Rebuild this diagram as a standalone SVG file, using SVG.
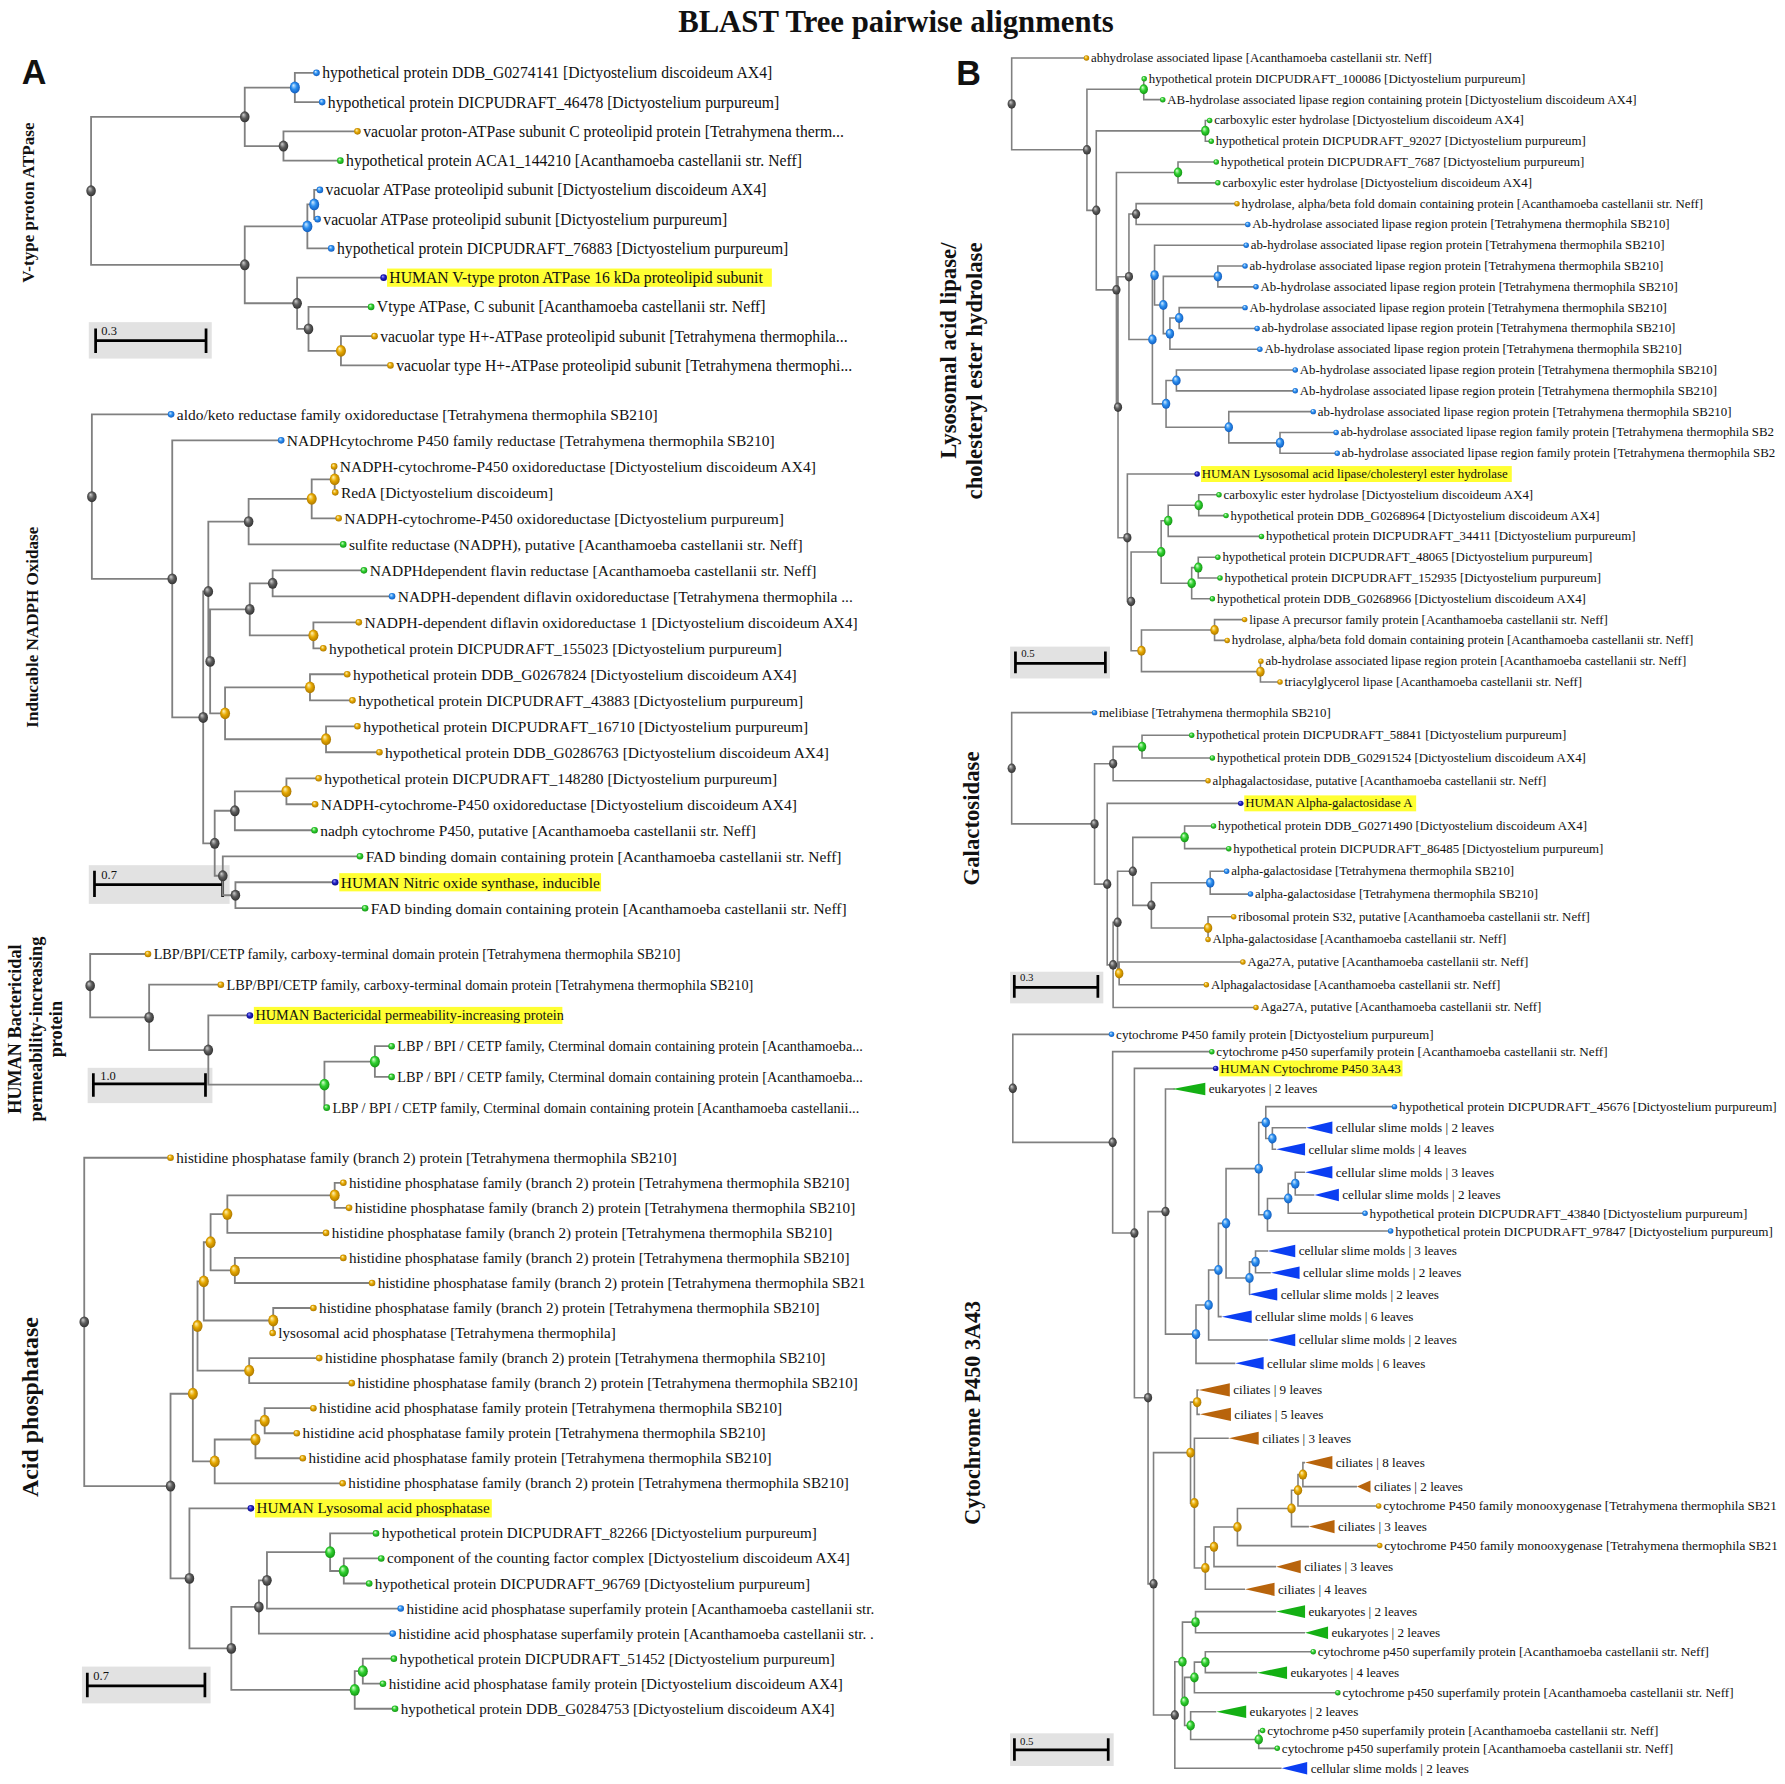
<svg xmlns="http://www.w3.org/2000/svg" width="1785" height="1784" viewBox="0 0 1785 1784">
<defs>
<radialGradient id="gk" cx="0.5" cy="0.5" r="0.6" fx="0.35" fy="0.3"><stop offset="0" stop-color="#cfcfcf"/><stop offset="0.45" stop-color="#5e5e5e"/><stop offset="1" stop-color="#262626"/></radialGradient>
<radialGradient id="gb" cx="0.5" cy="0.5" r="0.6" fx="0.35" fy="0.3"><stop offset="0" stop-color="#d4ecff"/><stop offset="0.45" stop-color="#2b8ff0"/><stop offset="1" stop-color="#0c4fb0"/></radialGradient>
<radialGradient id="go" cx="0.5" cy="0.5" r="0.6" fx="0.35" fy="0.3"><stop offset="0" stop-color="#fff4b8"/><stop offset="0.45" stop-color="#e6a800"/><stop offset="1" stop-color="#9c6a00"/></radialGradient>
<radialGradient id="gn" cx="0.5" cy="0.5" r="0.6" fx="0.35" fy="0.3"><stop offset="0" stop-color="#dcffd4"/><stop offset="0.45" stop-color="#30d030"/><stop offset="1" stop-color="#0c860c"/></radialGradient>
<radialGradient id="gd" cx="0.5" cy="0.5" r="0.6" fx="0.35" fy="0.3"><stop offset="0" stop-color="#a0a0ff"/><stop offset="0.45" stop-color="#2222c4"/><stop offset="1" stop-color="#000070"/></radialGradient>
</defs>
<style>
.e{fill:none;stroke:#808080;stroke-width:1.6}
.eb{fill:none;stroke:#808080;stroke-width:1.4}
.k{fill:url(#gk)}.b{fill:url(#gb)}.o{fill:url(#go)}.g{fill:url(#gn)}.d{fill:url(#gd)}
text{font-family:"Liberation Serif","Times New Roman",serif;fill:#111}
.ta{font-size:13.8px;dominant-baseline:central}
.tb{font-size:11.3px;dominant-baseline:central}
#tree-a2 text{font-size:13.6px}
#tree-a3 text{font-size:12.5px}
#tree-a4 text{font-size:13.3px}
#tree-b3 text{font-size:11.55px}
.hl{fill:#ffff33}
.sb{fill:#e2e2e2}
.bar{stroke:#000;stroke-width:2.4;fill:none}
.sl{font-size:11px}
.sls{font-size:9.5px}
.side{font-weight:bold;text-anchor:middle}
.tbl{fill:#0b3ef2}.tbr{fill:#b8640c}.tgr{fill:#14b014}
</style>
<rect width="1785" height="1784" fill="#fff"/>
<g transform="scale(1.13839)">
<text x="787" y="28" text-anchor="middle" style="font-weight:bold;font-size:27px">BLAST Tree pairwise alignments</text>
<text x="19" y="74" style="font-family:'Liberation Sans',Arial,sans-serif;font-weight:bold;font-size:30px">A</text>
<text x="840" y="75" style="font-family:'Liberation Sans',Arial,sans-serif;font-weight:bold;font-size:30px">B</text>

<g id="side-labels">
<text class="side" transform="translate(30 178) rotate(-90)" style="font-size:15px">V-type proton ATPase</text>
<text class="side" transform="translate(33 551) rotate(-90)" style="font-size:15px">Inducable NADPH Oxidase</text>
<text class="side" transform="translate(18.5 904) rotate(-90)" style="font-size:16px">HUMAN Bactericidal</text>
<text class="side" transform="translate(36.5 904) rotate(-90)" style="font-size:16px">permeability-increasing</text>
<text class="side" transform="translate(54.5 904) rotate(-90)" style="font-size:16px">protein</text>
<text class="side" transform="translate(33 1236) rotate(-90)" style="font-size:21px">Acid phosphatase</text>
<text class="side" transform="translate(840 213) rotate(-90)" style="font-size:20px;text-anchor:end">Lysosomal acid lipase/</text>
<text class="side" transform="translate(863 213) rotate(-90)" style="font-size:20px;text-anchor:end">cholesteryl ester hydrolase</text>
<text class="side" transform="translate(860 719) rotate(-90)" style="font-size:20px">Galactosidase</text>
<text class="side" transform="translate(861 1241) rotate(-90)" style="font-size:19.5px">Cytochrome P450 3A43</text>
</g>

<g id="scale-bars">
<rect class="sb" x="78" y="283" width="108" height="32"/><path class="bar" d="M84 288.5V310M84 299.2H181M181 288.5V310"/><text class="sl" x="89" y="294">0.3</text>
<rect class="sb" x="78" y="760" width="123.7" height="34"/><path class="bar" d="M83 765V788M83 777H195.6M195.6 765V788"/><text class="sl" x="89" y="772">0.7</text>
<rect class="sb" x="77" y="938" width="109.6" height="31"/><path class="bar" d="M82 942.8V963.4M82 952.2H180.5M180.5 942.8V963.4"/><text class="sl" x="88" y="948.5">1.0</text>
<rect class="sb" x="72" y="1464" width="113" height="32.3"/><path class="bar" d="M76.7 1469.3V1491M76.7 1481H180M180 1469.3V1491"/><text class="sl" x="82" y="1476">0.7</text>
<rect class="sb" x="887.3" y="568" width="87.7" height="28"/><path class="bar" d="M892 572.4V591.5M892 582.7H971M971 572.4V591.5"/><text class="sls" x="897" y="577">0.5</text>
<rect class="sb" x="887.3" y="853.6" width="81.9" height="27.8"/><path class="bar" d="M891 856.5V876.4M891 867.3H964.4M964.4 856.5V876.4"/><text class="sls" x="896" y="862">0.3</text>
<rect class="sb" x="887.3" y="1522.6" width="91" height="28.7"/><path class="bar" d="M891.1 1527V1546.6M891.1 1537.2H973.5M973.5 1527V1546.6"/><text class="sls" x="896" y="1533">0.5</text>
</g>

<g id="highlights">
<rect class="hl" x="340" y="235.9" width="338" height="16"/>
<rect class="hl" x="298" y="767" width="230" height="16"/>
<rect class="hl" x="223" y="884.5" width="271" height="15"/>
<rect class="hl" x="224" y="1317" width="208" height="16"/>
<rect class="hl" x="1055" y="409.4" width="273" height="14"/>
<rect class="hl" x="1093" y="698.7" width="151" height="14"/>
<rect class="hl" x="1071" y="931.5" width="161" height="14"/>
</g>

<g id="connectors">
<path class="e" d="M278 64H259V89.7H283M314 115.4H249V141.1H299M259 76.9H215V128.3H249M281 166.8H276V192.5H279M276 179.6H270V218.2H291M329 295.3H299.5V321H343M326 269.6H271V308.2H299.5M337 243.9H261V288.9H271M270 198.9H215V266.4H261M215 102.6H80V232.6H215"/>
<path class="e" d="M293.5 409.7H294V432.5H294.5M294 421.1H273.8V455.3H297.5M273.8 438.2H218.4V478.2H301.5M319.7 501H239.5V523.8H344.4M315.2 546.7H275.3V569.5H284M239.5 512.4H219.4V558.1H275.3M305 592.3H272.3V615.2H309.6M314 638H286.4V660.8H333.3M272.3 603.8H197.7V649.4H286.4M219.4 535.3H184.6V626.6H197.7M218.4 458.2H183V581H184.6M279.9 683.7H251.6V706.5H276.8M251.6 695.1H206.3V729.3H276.3M294.4 775H206.8V797.8H320.7M316.2 752.2H195.7V786.4H206.8M206.3 712.2H188.6V769.3H195.7M183 519.6H178.5V740.8H188.6M247 386.8H151.3V630.2H178.5M150.3 364H80.7V508.5H151.3"/>
<path class="e" d="M344 919H329.3V946H344M329.3 932.5H285V973H287M219.5 892H183V952.75H285M194 865H131V922.4H183M130 838H79.2V893.7H131"/>
<path class="e" d="M301.6 1039H294V1061H306.6M294 1050H199.7V1083H286.4M301.6 1105H206.3V1127H326.8M199.7 1066.5H185V1116H206.3M275.3 1149H240V1171H239.5M185 1091.25H179V1160H240M280.4 1193H218.9V1215H309M179 1125.6H173.5V1204H218.9M275.3 1237H232.5V1259H260.7M232.5 1248H224.4V1281H266M224.4 1264.5H188.6V1303H301M173.5 1164.8H169.4V1283.75H188.6M334.9 1369H302V1391H324.3M330.3 1347H290V1380H302M290 1363.5H234.5V1413H352M234.5 1388.25H227.4V1435H345M346 1457H318.7V1479H336.4M318.7 1468H311.6V1501H347M227.4 1411.6H203.2V1484.5H311.6M220.4 1325H166.4V1448H203.2M169.4 1224.3H149.8V1386.5H166.4M149.8 1017H74V1305.4H149.8"/>
<path class="eb" d="M1005.1 69.27H1004.7V87.54H1021.4M1062.6 105.81H1058.8V124.08H1064M1068.4 142.35H1034.8V160.62H1069.8M1086.6 178.89H998V197.16H1096.1M1093.7 233.7H1069.8V251.97H1103.3M1093.7 270.24H1035.8V288.51H1104.3M1035.8 279.4H1027.7V306.78H1106.7M1069.8 242.8H1021.9V293.1H1027.7M1094.7 215.43H1014.2V267.95H1021.9M1137.8 325.05H1033.4V343.32H1137.8M1173.7 379.86H1124.4V398.13H1174.7M1153.6 361.59H1079.4V389H1124.4M1033.4 334.2H1024.3V375.3H1079.4M1014.2 241.7H1012.3V354.75H1024.3M998 188H991.7V298.2H1012.3M1070.8 434.67H1053V452.94H1077M1053 443.8H1026.2V471.21H1108.1M1069.8 489.48H1052.6V507.75H1071.7M1052.6 498.6H1046.8V526.02H1065M1026.2 457.5H1020V512.3H1046.8M1093.3 544.29H1066.9V562.56H1078M1107.6 580.83H1107.2V599.1H1124.4M1066.9 553.4H1002.7V590H1107.2M1020 484.9H993.6V571.7H1002.7M1051.6 416.4H990.3V528.3H993.6M991.7 243.1H982.1V472.35H990.3M1034.8 151.5H980.7V357.7H982.1M1058.8 114.95H963V254.6H980.7M1004.7 78.4H954.8V184.8H963M954.4 51H888.7V131.6H954.8"/>
<path class="eb" d="M1046.8 645.9H1003.2V665.8H1065M1003.2 655.9H977.8V685.8H1061.2M1066 725.6H1040.6V745.5H1079.4M1077.5 765.4H1063.1V785.4H1098.5M1083.7 805.3H1061.2V825.2H1061.2M1063.1 775.4H1011.4V815.25H1061.2M1040.6 735.55H995.1V795.3H1011.4M1091.8 845.1H983.1V865H1059.7M995.1 765.4H981.7V855.05H983.1M981.7 810.2H977.8V885H1103.3M1089.9 705.7H972.6V847.6H977.8M977.8 670.85H961.5V776.65H972.6M961.5 626H888.7V723.75H961.5"/>
<path class="eb" d="M1147.4 990.6H1117.7V1009.6H1121M1225 972.1H1111.9V1000.1H1117.7M1146.4 1029.8H1137.8V1049.7H1154.6M1137.8 1039.75H1131.6V1065.8H1199.1M1131.6 1052.8H1113.4V1081.4H1221.6M1111.9 986.1H1105.7V1067.1H1113.4M1113.9 1098.9H1102.9V1118H1116.3M1102.9 1108.45H1097.6V1137H1097.1M1105.7 1026.6H1077V1122.7H1097.6M1077 1074.65H1070.3V1156.6H1073.2M1070.3 1115.6H1061.7V1177.1H1113.9M1061.7 1146.35H1050.6V1197.6H1085.1M1032 956.6H1023.8V1171.95H1050.6M1053 1221H1051.6V1242.4H1054M1146.4 1284.8H1144.5V1305.9H1192M1144.5 1295.35H1140.2V1322.9H1211.1M1140.2 1309.1H1134.5V1341H1149.8M1134.5 1325.05H1087V1357.7H1212M1087 1341.4H1066.4V1376.2H1121M1066.4 1358.8H1058.8V1396.1H1093.7M1079.4 1263.4H1049.2V1377.45H1058.8M1051.6 1231.7H1045.8V1320.4H1049.2M1121 1415.7H1050.2V1434.2H1146.4M1153.6 1450.9H1058.8V1469.3H1104.3M1058.8 1460.1H1049.2V1486.9H1175.2M1109.1 1520.2H1105.7V1535.8H1122M1068.4 1503.6H1045.9V1528H1105.7M1049.2 1473.5H1040.6V1515.8H1045.9M1050.2 1424.95H1038.7V1494.65H1040.6M1038.7 1459.8H1032V1553.3H1125.8M1045.8 1276.05H1013.3V1506.55H1032M1023.8 1064.3H1008.5V1391.3H1013.3M1067.9 938.5H996.5V1227.8H1008.5M1064.5 923.8H977.4V1083.15H996.5M976.4 908.6H889.7V1003.5H977.4"/>
</g>

<g id="tree-a1">
<g id="a1-internal">
<ellipse class="b" cx="259" cy="76.9" rx="4.4" ry="5.2"/><ellipse class="k" cx="249" cy="128.3" rx="4.2" ry="4.8"/><ellipse class="k" cx="215" cy="102.6" rx="4.2" ry="4.8"/><ellipse class="b" cx="276" cy="179.6" rx="4.4" ry="5.2"/><ellipse class="b" cx="270" cy="198.9" rx="4.4" ry="5.2"/><ellipse class="o" cx="299.5" cy="308.2" rx="4.4" ry="5.2"/><ellipse class="k" cx="271" cy="288.9" rx="4.2" ry="4.8"/><ellipse class="k" cx="261" cy="266.4" rx="4.2" ry="4.8"/><ellipse class="k" cx="215" cy="232.6" rx="4.2" ry="4.8"/><ellipse class="k" cx="80" cy="167.6" rx="4.2" ry="4.8"/>
</g>
<g id="a1-l0"><circle class="b" cx="278" cy="64" r="2.9"/><text class="ta" x="283" y="64">hypothetical protein DDB_G0274141 [Dictyostelium discoideum AX4]</text></g>
<g id="a1-l1"><circle class="b" cx="283" cy="89.7" r="2.9"/><text class="ta" x="288" y="89.7">hypothetical protein DICPUDRAFT_46478 [Dictyostelium purpureum]</text></g>
<g id="a1-l2"><circle class="o" cx="314" cy="115.4" r="2.9"/><text class="ta" x="319" y="115.4">vacuolar proton-ATPase subunit C proteolipid protein [Tetrahymena therm...</text></g>
<g id="a1-l3"><circle class="g" cx="299" cy="141.1" r="2.9"/><text class="ta" x="304" y="141.1">hypothetical protein ACA1_144210 [Acanthamoeba castellanii str. Neff]</text></g>
<g id="a1-l4"><circle class="b" cx="281" cy="166.8" r="2.9"/><text class="ta" x="286" y="166.8">vacuolar ATPase proteolipid subunit [Dictyostelium discoideum AX4]</text></g>
<g id="a1-l5"><circle class="b" cx="279" cy="192.5" r="2.9"/><text class="ta" x="284" y="192.5">vacuolar ATPase proteolipid subunit [Dictyostelium purpureum]</text></g>
<g id="a1-l6"><circle class="b" cx="291" cy="218.2" r="2.9"/><text class="ta" x="296" y="218.2">hypothetical protein DICPUDRAFT_76883 [Dictyostelium purpureum]</text></g>
<g id="a1-l7"><circle class="d" cx="337" cy="243.9" r="2.9"/><text class="ta" x="342" y="243.9">HUMAN V-type proton ATPase 16 kDa proteolipid subunit</text></g>
<g id="a1-l8"><circle class="g" cx="326" cy="269.6" r="2.9"/><text class="ta" x="331" y="269.6">Vtype ATPase, C subunit [Acanthamoeba castellanii str. Neff]</text></g>
<g id="a1-l9"><circle class="o" cx="329" cy="295.3" r="2.9"/><text class="ta" x="334" y="295.3">vacuolar type H+-ATPase proteolipid subunit [Tetrahymena thermophila...</text></g>
<g id="a1-l10"><circle class="o" cx="343" cy="321" r="2.9"/><text class="ta" x="348" y="321">vacuolar type H+-ATPase proteolipid subunit [Tetrahymena thermophi...</text></g>
</g>

<g id="tree-a2">
<g id="a2-internal">
<ellipse class="o" cx="294" cy="421.1" rx="4.4" ry="5.2"/><ellipse class="o" cx="273.8" cy="438.2" rx="4.4" ry="5.2"/><ellipse class="k" cx="218.4" cy="458.2" rx="4.2" ry="4.8"/><ellipse class="k" cx="239.5" cy="512.4" rx="4.2" ry="4.8"/><ellipse class="o" cx="275.3" cy="558.1" rx="4.4" ry="5.2"/><ellipse class="k" cx="219.4" cy="535.3" rx="4.2" ry="4.8"/><ellipse class="o" cx="272.3" cy="603.8" rx="4.4" ry="5.2"/><ellipse class="o" cx="286.4" cy="649.4" rx="4.4" ry="5.2"/><ellipse class="o" cx="197.7" cy="626.6" rx="4.4" ry="5.2"/><ellipse class="k" cx="184.6" cy="581" rx="4.2" ry="4.8"/><ellipse class="k" cx="183" cy="519.6" rx="4.2" ry="4.8"/><ellipse class="o" cx="251.6" cy="695.1" rx="4.4" ry="5.2"/><ellipse class="k" cx="206.3" cy="712.2" rx="4.2" ry="4.8"/><ellipse class="k" cx="206.8" cy="786.4" rx="4.2" ry="4.8"/><ellipse class="k" cx="195.7" cy="769.3" rx="4.2" ry="4.8"/><ellipse class="k" cx="188.6" cy="740.8" rx="4.2" ry="4.8"/><ellipse class="k" cx="178.5" cy="630.2" rx="4.2" ry="4.8"/><ellipse class="k" cx="151.3" cy="508.5" rx="4.2" ry="4.8"/><ellipse class="k" cx="80.7" cy="436.3" rx="4.2" ry="4.8"/>
</g>
<g id="a2-l0"><circle class="b" cx="150.3" cy="364" r="2.9"/><text class="ta" x="155.3" y="364">aldo/keto reductase family oxidoreductase [Tetrahymena thermophila SB210]</text></g>
<g id="a2-l1"><circle class="b" cx="247" cy="386.8" r="2.9"/><text class="ta" x="252" y="386.8">NADPHcytochrome P450 family reductase [Tetrahymena thermophila SB210]</text></g>
<g id="a2-l2"><circle class="o" cx="293.5" cy="409.7" r="2.9"/><text class="ta" x="298.5" y="409.7">NADPH-cytochrome-P450 oxidoreductase [Dictyostelium discoideum AX4]</text></g>
<g id="a2-l3"><circle class="o" cx="294.5" cy="432.5" r="2.9"/><text class="ta" x="299.5" y="432.5">RedA [Dictyostelium discoideum]</text></g>
<g id="a2-l4"><circle class="o" cx="297.5" cy="455.3" r="2.9"/><text class="ta" x="302.5" y="455.3">NADPH-cytochrome-P450 oxidoreductase [Dictyostelium purpureum]</text></g>
<g id="a2-l5"><circle class="g" cx="301.5" cy="478.2" r="2.9"/><text class="ta" x="306.5" y="478.2">sulfite reductase (NADPH), putative [Acanthamoeba castellanii str. Neff]</text></g>
<g id="a2-l6"><circle class="g" cx="319.7" cy="501" r="2.9"/><text class="ta" x="324.7" y="501">NADPHdependent flavin reductase [Acanthamoeba castellanii str. Neff]</text></g>
<g id="a2-l7"><circle class="b" cx="344.4" cy="523.8" r="2.9"/><text class="ta" x="349.4" y="523.8">NADPH-dependent diflavin oxidoreductase [Tetrahymena thermophila ...</text></g>
<g id="a2-l8"><circle class="o" cx="315.2" cy="546.7" r="2.9"/><text class="ta" x="320.2" y="546.7">NADPH-dependent diflavin oxidoreductase 1 [Dictyostelium discoideum AX4]</text></g>
<g id="a2-l9"><circle class="o" cx="284" cy="569.5" r="2.9"/><text class="ta" x="289" y="569.5">hypothetical protein DICPUDRAFT_155023 [Dictyostelium purpureum]</text></g>
<g id="a2-l10"><circle class="o" cx="305" cy="592.3" r="2.9"/><text class="ta" x="310" y="592.3">hypothetical protein DDB_G0267824 [Dictyostelium discoideum AX4]</text></g>
<g id="a2-l11"><circle class="o" cx="309.6" cy="615.2" r="2.9"/><text class="ta" x="314.6" y="615.2">hypothetical protein DICPUDRAFT_43883 [Dictyostelium purpureum]</text></g>
<g id="a2-l12"><circle class="o" cx="314" cy="638" r="2.9"/><text class="ta" x="319" y="638">hypothetical protein DICPUDRAFT_16710 [Dictyostelium purpureum]</text></g>
<g id="a2-l13"><circle class="o" cx="333.3" cy="660.8" r="2.9"/><text class="ta" x="338.3" y="660.8">hypothetical protein DDB_G0286763 [Dictyostelium discoideum AX4]</text></g>
<g id="a2-l14"><circle class="o" cx="279.9" cy="683.7" r="2.9"/><text class="ta" x="284.9" y="683.7">hypothetical protein DICPUDRAFT_148280 [Dictyostelium purpureum]</text></g>
<g id="a2-l15"><circle class="o" cx="276.8" cy="706.5" r="2.9"/><text class="ta" x="281.8" y="706.5">NADPH-cytochrome-P450 oxidoreductase [Dictyostelium discoideum AX4]</text></g>
<g id="a2-l16"><circle class="g" cx="276.3" cy="729.3" r="2.9"/><text class="ta" x="281.3" y="729.3">nadph cytochrome P450, putative [Acanthamoeba castellanii str. Neff]</text></g>
<g id="a2-l17"><circle class="g" cx="316.2" cy="752.2" r="2.9"/><text class="ta" x="321.2" y="752.2">FAD binding domain containing protein [Acanthamoeba castellanii str. Neff]</text></g>
<g id="a2-l18"><circle class="d" cx="294.4" cy="775" r="2.9"/><text class="ta" x="299.4" y="775">HUMAN Nitric oxide synthase, inducible</text></g>
<g id="a2-l19"><circle class="g" cx="320.7" cy="797.8" r="2.9"/><text class="ta" x="325.7" y="797.8">FAD binding domain containing protein [Acanthamoeba castellanii str. Neff]</text></g>
</g>

<g id="tree-a3">
<g id="a3-internal">
<ellipse class="g" cx="329.3" cy="932.5" rx="4.4" ry="5.2"/><ellipse class="g" cx="285" cy="952.75" rx="4.4" ry="5.2"/><ellipse class="k" cx="183" cy="922.4" rx="4.2" ry="4.8"/><ellipse class="k" cx="131" cy="893.7" rx="4.2" ry="4.8"/><ellipse class="k" cx="79.2" cy="865.9" rx="4.2" ry="4.8"/>
</g>
<g id="a3-l0"><circle class="o" cx="130" cy="838" r="2.9"/><text class="ta" x="135" y="838">LBP/BPI/CETP family, carboxy-terminal domain protein [Tetrahymena thermophila SB210]</text></g>
<g id="a3-l1"><circle class="o" cx="194" cy="865" r="2.9"/><text class="ta" x="199" y="865">LBP/BPI/CETP family, carboxy-terminal domain protein [Tetrahymena thermophila SB210]</text></g>
<g id="a3-l2"><circle class="d" cx="219.5" cy="892" r="2.9"/><text class="ta" x="224.5" y="892">HUMAN Bactericidal permeability-increasing protein</text></g>
<g id="a3-l3"><circle class="g" cx="344" cy="919" r="2.9"/><text class="ta" x="349" y="919">LBP / BPI / CETP family, Cterminal domain containing protein [Acanthamoeba...</text></g>
<g id="a3-l4"><circle class="g" cx="344" cy="946" r="2.9"/><text class="ta" x="349" y="946">LBP / BPI / CETP family, Cterminal domain containing protein [Acanthamoeba...</text></g>
<g id="a3-l5"><circle class="g" cx="287" cy="973" r="2.9"/><text class="ta" x="292" y="973">LBP / BPI / CETP family, Cterminal domain containing protein [Acanthamoeba castellanii...</text></g>
</g>

<g id="tree-a4">
<g id="a4-internal">
<ellipse class="o" cx="294" cy="1050" rx="4.4" ry="5.2"/><ellipse class="o" cx="199.7" cy="1066.5" rx="4.4" ry="5.2"/><ellipse class="o" cx="206.3" cy="1116" rx="4.4" ry="5.2"/><ellipse class="o" cx="185" cy="1091.25" rx="4.4" ry="5.2"/><ellipse class="o" cx="240" cy="1160" rx="4.4" ry="5.2"/><ellipse class="o" cx="179" cy="1125.6" rx="4.4" ry="5.2"/><ellipse class="o" cx="218.9" cy="1204" rx="4.4" ry="5.2"/><ellipse class="o" cx="173.5" cy="1164.8" rx="4.4" ry="5.2"/><ellipse class="o" cx="232.5" cy="1248" rx="4.4" ry="5.2"/><ellipse class="o" cx="224.4" cy="1264.5" rx="4.4" ry="5.2"/><ellipse class="o" cx="188.6" cy="1283.75" rx="4.4" ry="5.2"/><ellipse class="o" cx="169.4" cy="1224.3" rx="4.4" ry="5.2"/><ellipse class="g" cx="302" cy="1380" rx="4.4" ry="5.2"/><ellipse class="g" cx="290" cy="1363.5" rx="4.4" ry="5.2"/><ellipse class="k" cx="234.5" cy="1388.25" rx="4.2" ry="4.8"/><ellipse class="k" cx="227.4" cy="1411.6" rx="4.2" ry="4.8"/><ellipse class="g" cx="318.7" cy="1468" rx="4.4" ry="5.2"/><ellipse class="g" cx="311.6" cy="1484.5" rx="4.4" ry="5.2"/><ellipse class="k" cx="203.2" cy="1448" rx="4.2" ry="4.8"/><ellipse class="k" cx="166.4" cy="1386.5" rx="4.2" ry="4.8"/><ellipse class="k" cx="149.8" cy="1305.4" rx="4.2" ry="4.8"/><ellipse class="k" cx="74" cy="1161.2" rx="4.2" ry="4.8"/>
</g>
<g id="a4-l0"><circle class="o" cx="149.8" cy="1017" r="2.9"/><text class="ta" x="154.8" y="1017">histidine phosphatase family (branch 2) protein [Tetrahymena thermophila SB210]</text></g>
<g id="a4-l1"><circle class="o" cx="301.6" cy="1039" r="2.9"/><text class="ta" x="306.6" y="1039">histidine phosphatase family (branch 2) protein [Tetrahymena thermophila SB210]</text></g>
<g id="a4-l2"><circle class="o" cx="306.6" cy="1061" r="2.9"/><text class="ta" x="311.6" y="1061">histidine phosphatase family (branch 2) protein [Tetrahymena thermophila SB210]</text></g>
<g id="a4-l3"><circle class="o" cx="286.4" cy="1083" r="2.9"/><text class="ta" x="291.4" y="1083">histidine phosphatase family (branch 2) protein [Tetrahymena thermophila SB210]</text></g>
<g id="a4-l4"><circle class="o" cx="301.6" cy="1105" r="2.9"/><text class="ta" x="306.6" y="1105">histidine phosphatase family (branch 2) protein [Tetrahymena thermophila SB210]</text></g>
<g id="a4-l5"><circle class="o" cx="326.8" cy="1127" r="2.9"/><text class="ta" x="331.8" y="1127">histidine phosphatase family (branch 2) protein [Tetrahymena thermophila SB21</text></g>
<g id="a4-l6"><circle class="o" cx="275.3" cy="1149" r="2.9"/><text class="ta" x="280.3" y="1149">histidine phosphatase family (branch 2) protein [Tetrahymena thermophila SB210]</text></g>
<g id="a4-l7"><circle class="o" cx="239.5" cy="1171" r="2.9"/><text class="ta" x="244.5" y="1171">lysosomal acid phosphatase [Tetrahymena thermophila]</text></g>
<g id="a4-l8"><circle class="o" cx="280.4" cy="1193" r="2.9"/><text class="ta" x="285.4" y="1193">histidine phosphatase family (branch 2) protein [Tetrahymena thermophila SB210]</text></g>
<g id="a4-l9"><circle class="o" cx="309" cy="1215" r="2.9"/><text class="ta" x="314" y="1215">histidine phosphatase family (branch 2) protein [Tetrahymena thermophila SB210]</text></g>
<g id="a4-l10"><circle class="o" cx="275.3" cy="1237" r="2.9"/><text class="ta" x="280.3" y="1237">histidine acid phosphatase family protein [Tetrahymena thermophila SB210]</text></g>
<g id="a4-l11"><circle class="o" cx="260.7" cy="1259" r="2.9"/><text class="ta" x="265.7" y="1259">histidine acid phosphatase family protein [Tetrahymena thermophila SB210]</text></g>
<g id="a4-l12"><circle class="o" cx="266" cy="1281" r="2.9"/><text class="ta" x="271" y="1281">histidine acid phosphatase family protein [Tetrahymena thermophila SB210]</text></g>
<g id="a4-l13"><circle class="o" cx="301" cy="1303" r="2.9"/><text class="ta" x="306" y="1303">histidine phosphatase family (branch 2) protein [Tetrahymena thermophila SB210]</text></g>
<g id="a4-l14"><circle class="d" cx="220.4" cy="1325" r="2.9"/><text class="ta" x="225.4" y="1325">HUMAN Lysosomal acid phosphatase</text></g>
<g id="a4-l15"><circle class="g" cx="330.3" cy="1347" r="2.9"/><text class="ta" x="335.3" y="1347">hypothetical protein DICPUDRAFT_82266 [Dictyostelium purpureum]</text></g>
<g id="a4-l16"><circle class="g" cx="334.9" cy="1369" r="2.9"/><text class="ta" x="339.9" y="1369">component of the counting factor complex [Dictyostelium discoideum AX4]</text></g>
<g id="a4-l17"><circle class="g" cx="324.3" cy="1391" r="2.9"/><text class="ta" x="329.3" y="1391">hypothetical protein DICPUDRAFT_96769 [Dictyostelium purpureum]</text></g>
<g id="a4-l18"><circle class="b" cx="352" cy="1413" r="2.9"/><text class="ta" x="357" y="1413">histidine acid phosphatase superfamily protein [Acanthamoeba castellanii str.</text></g>
<g id="a4-l19"><circle class="b" cx="345" cy="1435" r="2.9"/><text class="ta" x="350" y="1435">histidine acid phosphatase superfamily protein [Acanthamoeba castellanii str. .</text></g>
<g id="a4-l20"><circle class="g" cx="346" cy="1457" r="2.9"/><text class="ta" x="351" y="1457">hypothetical protein DICPUDRAFT_51452 [Dictyostelium purpureum]</text></g>
<g id="a4-l21"><circle class="g" cx="336.4" cy="1479" r="2.9"/><text class="ta" x="341.4" y="1479">histidine acid phosphatase family protein [Dictyostelium discoideum AX4]</text></g>
<g id="a4-l22"><circle class="g" cx="347" cy="1501" r="2.9"/><text class="ta" x="352" y="1501">hypothetical protein DDB_G0284753 [Dictyostelium discoideum AX4]</text></g>
</g>

<g id="tree-b1">
<g id="b1-internal">
<ellipse class="g" cx="1004.7" cy="78.4" rx="3.7" ry="4.4"/><ellipse class="g" cx="1058.8" cy="114.95" rx="3.7" ry="4.4"/><ellipse class="g" cx="1034.8" cy="151.5" rx="3.7" ry="4.4"/><ellipse class="k" cx="998" cy="188" rx="3.6" ry="4.2"/><ellipse class="b" cx="1069.8" cy="242.8" rx="3.7" ry="4.4"/><ellipse class="b" cx="1035.8" cy="279.4" rx="3.7" ry="4.4"/><ellipse class="b" cx="1027.7" cy="293.1" rx="3.7" ry="4.4"/><ellipse class="b" cx="1021.9" cy="267.95" rx="3.7" ry="4.4"/><ellipse class="b" cx="1014.2" cy="241.7" rx="3.7" ry="4.4"/><ellipse class="b" cx="1033.4" cy="334.2" rx="3.7" ry="4.4"/><ellipse class="b" cx="1124.4" cy="389" rx="3.7" ry="4.4"/><ellipse class="b" cx="1079.4" cy="375.3" rx="3.7" ry="4.4"/><ellipse class="b" cx="1024.3" cy="354.75" rx="3.7" ry="4.4"/><ellipse class="b" cx="1012.3" cy="298.2" rx="3.7" ry="4.4"/><ellipse class="k" cx="991.7" cy="243.1" rx="3.6" ry="4.2"/><ellipse class="g" cx="1053" cy="443.8" rx="3.7" ry="4.4"/><ellipse class="g" cx="1026.2" cy="457.5" rx="3.7" ry="4.4"/><ellipse class="g" cx="1052.6" cy="498.6" rx="3.7" ry="4.4"/><ellipse class="g" cx="1046.8" cy="512.3" rx="3.7" ry="4.4"/><ellipse class="g" cx="1020" cy="484.9" rx="3.7" ry="4.4"/><ellipse class="o" cx="1066.9" cy="553.4" rx="3.7" ry="4.4"/><ellipse class="o" cx="1107.2" cy="590" rx="3.7" ry="4.4"/><ellipse class="o" cx="1002.7" cy="571.7" rx="3.7" ry="4.4"/><ellipse class="k" cx="993.6" cy="528.3" rx="3.6" ry="4.2"/><ellipse class="k" cx="990.3" cy="472.35" rx="3.6" ry="4.2"/><ellipse class="k" cx="982.1" cy="357.7" rx="3.6" ry="4.2"/><ellipse class="k" cx="980.7" cy="254.6" rx="3.6" ry="4.2"/><ellipse class="k" cx="963" cy="184.8" rx="3.6" ry="4.2"/><ellipse class="k" cx="954.8" cy="131.6" rx="3.6" ry="4.2"/><ellipse class="k" cx="888.7" cy="91.3" rx="3.6" ry="4.2"/>
</g>
<g id="b1-l0"><circle class="o" cx="954.4" cy="51" r="2.4"/><text class="tb" x="958.4" y="51">abhydrolase associated lipase [Acanthamoeba castellanii str. Neff]</text></g>
<g id="b1-l1"><circle class="g" cx="1005.1" cy="69.27" r="2.4"/><text class="tb" x="1009.1" y="69.27">hypothetical protein DICPUDRAFT_100086 [Dictyostelium purpureum]</text></g>
<g id="b1-l2"><circle class="g" cx="1021.4" cy="87.54" r="2.4"/><text class="tb" x="1025.4" y="87.54">AB-hydrolase associated lipase region containing protein [Dictyostelium discoideum AX4]</text></g>
<g id="b1-l3"><circle class="g" cx="1062.6" cy="105.81" r="2.4"/><text class="tb" x="1066.6" y="105.81">carboxylic ester hydrolase [Dictyostelium discoideum AX4]</text></g>
<g id="b1-l4"><circle class="g" cx="1064" cy="124.08" r="2.4"/><text class="tb" x="1068" y="124.08">hypothetical protein DICPUDRAFT_92027 [Dictyostelium purpureum]</text></g>
<g id="b1-l5"><circle class="g" cx="1068.4" cy="142.35" r="2.4"/><text class="tb" x="1072.4" y="142.35">hypothetical protein DICPUDRAFT_7687 [Dictyostelium purpureum]</text></g>
<g id="b1-l6"><circle class="g" cx="1069.8" cy="160.62" r="2.4"/><text class="tb" x="1073.8" y="160.62">carboxylic ester hydrolase [Dictyostelium discoideum AX4]</text></g>
<g id="b1-l7"><circle class="o" cx="1086.6" cy="178.89" r="2.4"/><text class="tb" x="1090.6" y="178.89">hydrolase, alpha/beta fold domain containing protein [Acanthamoeba castellanii str. Neff]</text></g>
<g id="b1-l8"><circle class="b" cx="1096.1" cy="197.16" r="2.4"/><text class="tb" x="1100.1" y="197.16">Ab-hydrolase associated lipase region protein [Tetrahymena thermophila SB210]</text></g>
<g id="b1-l9"><circle class="b" cx="1094.7" cy="215.43" r="2.4"/><text class="tb" x="1098.7" y="215.43">ab-hydrolase associated lipase region protein [Tetrahymena thermophila SB210]</text></g>
<g id="b1-l10"><circle class="b" cx="1093.7" cy="233.7" r="2.4"/><text class="tb" x="1097.7" y="233.7">ab-hydrolase associated lipase region protein [Tetrahymena thermophila SB210]</text></g>
<g id="b1-l11"><circle class="b" cx="1103.3" cy="251.97" r="2.4"/><text class="tb" x="1107.3" y="251.97">Ab-hydrolase associated lipase region protein [Tetrahymena thermophila SB210]</text></g>
<g id="b1-l12"><circle class="b" cx="1093.7" cy="270.24" r="2.4"/><text class="tb" x="1097.7" y="270.24">Ab-hydrolase associated lipase region protein [Tetrahymena thermophila SB210]</text></g>
<g id="b1-l13"><circle class="b" cx="1104.3" cy="288.51" r="2.4"/><text class="tb" x="1108.3" y="288.51">ab-hydrolase associated lipase region protein [Tetrahymena thermophila SB210]</text></g>
<g id="b1-l14"><circle class="b" cx="1106.7" cy="306.78" r="2.4"/><text class="tb" x="1110.7" y="306.78">Ab-hydrolase associated lipase region protein [Tetrahymena thermophila SB210]</text></g>
<g id="b1-l15"><circle class="b" cx="1137.8" cy="325.05" r="2.4"/><text class="tb" x="1141.8" y="325.05">Ab-hydrolase associated lipase region protein [Tetrahymena thermophila SB210]</text></g>
<g id="b1-l16"><circle class="b" cx="1137.8" cy="343.32" r="2.4"/><text class="tb" x="1141.8" y="343.32">Ab-hydrolase associated lipase region protein [Tetrahymena thermophila SB210]</text></g>
<g id="b1-l17"><circle class="b" cx="1153.6" cy="361.59" r="2.4"/><text class="tb" x="1157.6" y="361.59">ab-hydrolase associated lipase region protein [Tetrahymena thermophila SB210]</text></g>
<g id="b1-l18"><circle class="b" cx="1173.7" cy="379.86" r="2.4"/><text class="tb" x="1177.7" y="379.86">ab-hydrolase associated lipase region family protein [Tetrahymena thermophila SB2</text></g>
<g id="b1-l19"><circle class="b" cx="1174.7" cy="398.13" r="2.4"/><text class="tb" x="1178.7" y="398.13">ab-hydrolase associated lipase region family protein [Tetrahymena thermophila SB2</text></g>
<g id="b1-l20"><circle class="d" cx="1051.6" cy="416.4" r="2.4"/><text class="tb" x="1055.6" y="416.4">HUMAN Lysosomal acid lipase/cholesteryl ester hydrolase</text></g>
<g id="b1-l21"><circle class="g" cx="1070.8" cy="434.67" r="2.4"/><text class="tb" x="1074.8" y="434.67">carboxylic ester hydrolase [Dictyostelium discoideum AX4]</text></g>
<g id="b1-l22"><circle class="g" cx="1077" cy="452.94" r="2.4"/><text class="tb" x="1081" y="452.94">hypothetical protein DDB_G0268964 [Dictyostelium discoideum AX4]</text></g>
<g id="b1-l23"><circle class="g" cx="1108.1" cy="471.21" r="2.4"/><text class="tb" x="1112.1" y="471.21">hypothetical protein DICPUDRAFT_34411 [Dictyostelium purpureum]</text></g>
<g id="b1-l24"><circle class="g" cx="1069.8" cy="489.48" r="2.4"/><text class="tb" x="1073.8" y="489.48">hypothetical protein DICPUDRAFT_48065 [Dictyostelium purpureum]</text></g>
<g id="b1-l25"><circle class="g" cx="1071.7" cy="507.75" r="2.4"/><text class="tb" x="1075.7" y="507.75">hypothetical protein DICPUDRAFT_152935 [Dictyostelium purpureum]</text></g>
<g id="b1-l26"><circle class="g" cx="1065" cy="526.02" r="2.4"/><text class="tb" x="1069" y="526.02">hypothetical protein DDB_G0268966 [Dictyostelium discoideum AX4]</text></g>
<g id="b1-l27"><circle class="o" cx="1093.3" cy="544.29" r="2.4"/><text class="tb" x="1097.3" y="544.29">lipase A precursor family protein [Acanthamoeba castellanii str. Neff]</text></g>
<g id="b1-l28"><circle class="o" cx="1078" cy="562.56" r="2.4"/><text class="tb" x="1082" y="562.56">hydrolase, alpha/beta fold domain containing protein [Acanthamoeba castellanii str. Neff]</text></g>
<g id="b1-l29"><circle class="o" cx="1107.6" cy="580.83" r="2.4"/><text class="tb" x="1111.6" y="580.83">ab-hydrolase associated lipase region protein [Acanthamoeba castellanii str. Neff]</text></g>
<g id="b1-l30"><circle class="o" cx="1124.4" cy="599.1" r="2.4"/><text class="tb" x="1128.4" y="599.1">triacylglycerol lipase [Acanthamoeba castellanii str. Neff]</text></g>
</g>

<g id="tree-b2">
<g id="b2-internal">
<ellipse class="g" cx="1003.2" cy="655.9" rx="3.7" ry="4.4"/><ellipse class="k" cx="977.8" cy="670.85" rx="3.6" ry="4.2"/><ellipse class="g" cx="1040.6" cy="735.55" rx="3.7" ry="4.4"/><ellipse class="b" cx="1063.1" cy="775.4" rx="3.7" ry="4.4"/><ellipse class="o" cx="1061.2" cy="815.25" rx="3.7" ry="4.4"/><ellipse class="k" cx="1011.4" cy="795.3" rx="3.6" ry="4.2"/><ellipse class="k" cx="995.1" cy="765.4" rx="3.6" ry="4.2"/><ellipse class="o" cx="983.1" cy="855.05" rx="3.7" ry="4.4"/><ellipse class="k" cx="981.7" cy="810.2" rx="3.6" ry="4.2"/><ellipse class="k" cx="977.8" cy="847.6" rx="3.6" ry="4.2"/><ellipse class="k" cx="972.6" cy="776.65" rx="3.6" ry="4.2"/><ellipse class="k" cx="961.5" cy="723.75" rx="3.6" ry="4.2"/><ellipse class="k" cx="888.7" cy="674.9" rx="3.6" ry="4.2"/>
</g>
<g id="b2-l0"><circle class="b" cx="961.5" cy="626" r="2.4"/><text class="tb" x="965.5" y="626">melibiase [Tetrahymena thermophila SB210]</text></g>
<g id="b2-l1"><circle class="g" cx="1046.8" cy="645.9" r="2.4"/><text class="tb" x="1050.8" y="645.9">hypothetical protein DICPUDRAFT_58841 [Dictyostelium purpureum]</text></g>
<g id="b2-l2"><circle class="g" cx="1065" cy="665.8" r="2.4"/><text class="tb" x="1069" y="665.8">hypothetical protein DDB_G0291524 [Dictyostelium discoideum AX4]</text></g>
<g id="b2-l3"><circle class="o" cx="1061.2" cy="685.8" r="2.4"/><text class="tb" x="1065.2" y="685.8">alphagalactosidase, putative [Acanthamoeba castellanii str. Neff]</text></g>
<g id="b2-l4"><circle class="d" cx="1089.9" cy="705.7" r="2.4"/><text class="tb" x="1093.9" y="705.7">HUMAN Alpha-galactosidase A</text></g>
<g id="b2-l5"><circle class="g" cx="1066" cy="725.6" r="2.4"/><text class="tb" x="1070" y="725.6">hypothetical protein DDB_G0271490 [Dictyostelium discoideum AX4]</text></g>
<g id="b2-l6"><circle class="g" cx="1079.4" cy="745.5" r="2.4"/><text class="tb" x="1083.4" y="745.5">hypothetical protein DICPUDRAFT_86485 [Dictyostelium purpureum]</text></g>
<g id="b2-l7"><circle class="b" cx="1077.5" cy="765.4" r="2.4"/><text class="tb" x="1081.5" y="765.4">alpha-galactosidase [Tetrahymena thermophila SB210]</text></g>
<g id="b2-l8"><circle class="b" cx="1098.5" cy="785.4" r="2.4"/><text class="tb" x="1102.5" y="785.4">alpha-galactosidase [Tetrahymena thermophila SB210]</text></g>
<g id="b2-l9"><circle class="o" cx="1083.7" cy="805.3" r="2.4"/><text class="tb" x="1087.7" y="805.3">ribosomal protein S32, putative [Acanthamoeba castellanii str. Neff]</text></g>
<g id="b2-l10"><circle class="o" cx="1061.2" cy="825.2" r="2.4"/><text class="tb" x="1065.2" y="825.2">Alpha-galactosidase [Acanthamoeba castellanii str. Neff]</text></g>
<g id="b2-l11"><circle class="o" cx="1091.8" cy="845.1" r="2.4"/><text class="tb" x="1095.8" y="845.1">Aga27A, putative [Acanthamoeba castellanii str. Neff]</text></g>
<g id="b2-l12"><circle class="o" cx="1059.7" cy="865" r="2.4"/><text class="tb" x="1063.7" y="865">Alphagalactosidase [Acanthamoeba castellanii str. Neff]</text></g>
<g id="b2-l13"><circle class="o" cx="1103.3" cy="885" r="2.4"/><text class="tb" x="1107.3" y="885">Aga27A, putative [Acanthamoeba castellanii str. Neff]</text></g>
</g>

<g id="tree-b3">
<g id="b3-internal">
<ellipse class="b" cx="1117.7" cy="1000.1" rx="3.7" ry="4.4"/><ellipse class="b" cx="1111.9" cy="986.1" rx="3.7" ry="4.4"/><ellipse class="b" cx="1137.8" cy="1039.75" rx="3.7" ry="4.4"/><ellipse class="b" cx="1131.6" cy="1052.8" rx="3.7" ry="4.4"/><ellipse class="b" cx="1113.4" cy="1067.1" rx="3.7" ry="4.4"/><ellipse class="b" cx="1105.7" cy="1026.6" rx="3.7" ry="4.4"/><ellipse class="b" cx="1102.9" cy="1108.45" rx="3.7" ry="4.4"/><ellipse class="b" cx="1097.6" cy="1122.7" rx="3.7" ry="4.4"/><ellipse class="b" cx="1077" cy="1074.65" rx="3.7" ry="4.4"/><ellipse class="b" cx="1070.3" cy="1115.6" rx="3.7" ry="4.4"/><ellipse class="b" cx="1061.7" cy="1146.35" rx="3.7" ry="4.4"/><ellipse class="b" cx="1050.6" cy="1171.95" rx="3.7" ry="4.4"/><ellipse class="k" cx="1023.8" cy="1064.3" rx="3.6" ry="4.2"/><ellipse class="o" cx="1051.6" cy="1231.7" rx="3.7" ry="4.4"/><ellipse class="o" cx="1144.5" cy="1295.35" rx="3.7" ry="4.4"/><ellipse class="o" cx="1140.2" cy="1309.1" rx="3.7" ry="4.4"/><ellipse class="o" cx="1134.5" cy="1325.05" rx="3.7" ry="4.4"/><ellipse class="o" cx="1087" cy="1341.4" rx="3.7" ry="4.4"/><ellipse class="o" cx="1066.4" cy="1358.8" rx="3.7" ry="4.4"/><ellipse class="o" cx="1058.8" cy="1377.45" rx="3.7" ry="4.4"/><ellipse class="o" cx="1049.2" cy="1320.4" rx="3.7" ry="4.4"/><ellipse class="o" cx="1045.8" cy="1276.05" rx="3.7" ry="4.4"/><ellipse class="g" cx="1050.2" cy="1424.95" rx="3.7" ry="4.4"/><ellipse class="g" cx="1058.8" cy="1460.1" rx="3.7" ry="4.4"/><ellipse class="g" cx="1049.2" cy="1473.5" rx="3.7" ry="4.4"/><ellipse class="g" cx="1105.7" cy="1528" rx="3.7" ry="4.4"/><ellipse class="g" cx="1045.9" cy="1515.8" rx="3.7" ry="4.4"/><ellipse class="g" cx="1040.6" cy="1494.65" rx="3.7" ry="4.4"/><ellipse class="g" cx="1038.7" cy="1459.8" rx="3.7" ry="4.4"/><ellipse class="k" cx="1032" cy="1506.55" rx="3.6" ry="4.2"/><ellipse class="k" cx="1013.3" cy="1391.3" rx="3.6" ry="4.2"/><ellipse class="k" cx="1008.5" cy="1227.8" rx="3.6" ry="4.2"/><ellipse class="k" cx="996.5" cy="1083.15" rx="3.6" ry="4.2"/><ellipse class="k" cx="977.4" cy="1003.5" rx="3.6" ry="4.2"/><ellipse class="k" cx="889.7" cy="956.05" rx="3.6" ry="4.2"/>
</g>
<g id="b3-l0"><circle class="b" cx="976.4" cy="908.6" r="2.4"/><text class="tb" x="980.4" y="908.6">cytochrome P450 family protein [Dictyostelium purpureum]</text></g>
<g id="b3-l1"><circle class="g" cx="1064.5" cy="923.8" r="2.4"/><text class="tb" x="1068.5" y="923.8">cytochrome p450 superfamily protein [Acanthamoeba castellanii str. Neff]</text></g>
<g id="b3-l2"><circle class="d" cx="1067.9" cy="938.5" r="2.4"/><text class="tb" x="1071.9" y="938.5">HUMAN Cytochrome P450 3A43</text></g>
<g id="b3-l3"><path class="tgr" d="M1030 956.6L1058.8 951.1V962.1Z"/><text class="tb" x="1061.8" y="956.6">eukaryotes | 2 leaves</text></g>
<g id="b3-l4"><circle class="b" cx="1225" cy="972.1" r="2.4"/><text class="tb" x="1229" y="972.1">hypothetical protein DICPUDRAFT_45676 [Dictyostelium purpureum]</text></g>
<g id="b3-l5"><path class="tbl" d="M1147.4 990.6L1170.4 985.1V996.1Z"/><text class="tb" x="1173.4" y="990.6">cellular slime molds | 2 leaves</text></g>
<g id="b3-l6"><path class="tbl" d="M1121 1009.6L1146.4 1004.1V1015.1Z"/><text class="tb" x="1149.4" y="1009.6">cellular slime molds | 4 leaves</text></g>
<g id="b3-l7"><path class="tbl" d="M1146.4 1029.8L1170.4 1024.3V1035.3Z"/><text class="tb" x="1173.4" y="1029.8">cellular slime molds | 3 leaves</text></g>
<g id="b3-l8"><path class="tbl" d="M1154.6 1049.7L1176.1 1044.2V1055.2Z"/><text class="tb" x="1179.1" y="1049.7">cellular slime molds | 2 leaves</text></g>
<g id="b3-l9"><circle class="b" cx="1199.1" cy="1065.8" r="2.4"/><text class="tb" x="1203.1" y="1065.8">hypothetical protein DICPUDRAFT_43840 [Dictyostelium purpureum]</text></g>
<g id="b3-l10"><circle class="b" cx="1221.6" cy="1081.4" r="2.4"/><text class="tb" x="1225.6" y="1081.4">hypothetical protein DICPUDRAFT_97847 [Dictyostelium purpureum]</text></g>
<g id="b3-l11"><path class="tbl" d="M1113.9 1098.9L1137.8 1093.4V1104.4Z"/><text class="tb" x="1140.8" y="1098.9">cellular slime molds | 3 leaves</text></g>
<g id="b3-l12"><path class="tbl" d="M1116.3 1118L1141.6 1112.5V1123.5Z"/><text class="tb" x="1144.6" y="1118">cellular slime molds | 2 leaves</text></g>
<g id="b3-l13"><path class="tbl" d="M1097.1 1137L1122 1131.5V1142.5Z"/><text class="tb" x="1125" y="1137">cellular slime molds | 2 leaves</text></g>
<g id="b3-l14"><path class="tbl" d="M1073.2 1156.6L1099.5 1151.1V1162.1Z"/><text class="tb" x="1102.5" y="1156.6">cellular slime molds | 6 leaves</text></g>
<g id="b3-l15"><path class="tbl" d="M1113.9 1177.1L1137.8 1171.6V1182.6Z"/><text class="tb" x="1140.8" y="1177.1">cellular slime molds | 2 leaves</text></g>
<g id="b3-l16"><path class="tbl" d="M1085.1 1197.6L1110 1192.1V1203.1Z"/><text class="tb" x="1113" y="1197.6">cellular slime molds | 6 leaves</text></g>
<g id="b3-l17"><path class="tbr" d="M1053 1221L1080.3 1215.2V1226.8Z"/><text class="tb" x="1083.3" y="1221">ciliates | 9 leaves</text></g>
<g id="b3-l18"><path class="tbr" d="M1054 1242.4L1081.3 1236.6V1248.2Z"/><text class="tb" x="1084.3" y="1242.4">ciliates | 5 leaves</text></g>
<g id="b3-l19"><path class="tbr" d="M1079.4 1263.4L1105.7 1257.6V1269.2Z"/><text class="tb" x="1108.7" y="1263.4">ciliates | 3 leaves</text></g>
<g id="b3-l20"><path class="tbr" d="M1146.4 1284.8L1170.4 1279V1290.6Z"/><text class="tb" x="1173.4" y="1284.8">ciliates | 8 leaves</text></g>
<g id="b3-l21"><path class="tbr" d="M1192 1305.9L1203.9 1300.6V1311.2Z"/><text class="tb" x="1206.9" y="1305.9">ciliates | 2 leaves</text></g>
<g id="b3-l22"><circle class="o" cx="1211.1" cy="1322.9" r="2.4"/><text class="tb" x="1215.1" y="1322.9">cytochrome P450 family monooxygenase [Tetrahymena thermophila SB21</text></g>
<g id="b3-l23"><path class="tbr" d="M1149.8 1341L1172.3 1335.2V1346.8Z"/><text class="tb" x="1175.3" y="1341">ciliates | 3 leaves</text></g>
<g id="b3-l24"><circle class="o" cx="1212" cy="1357.7" r="2.4"/><text class="tb" x="1216" y="1357.7">cytochrome P450 family monooxygenase [Tetrahymena thermophila SB21</text></g>
<g id="b3-l25"><path class="tbr" d="M1121 1376.2L1142.6 1370.4V1382Z"/><text class="tb" x="1145.6" y="1376.2">ciliates | 3 leaves</text></g>
<g id="b3-l26"><path class="tbr" d="M1093.7 1396.1L1119.6 1390.3V1401.9Z"/><text class="tb" x="1122.6" y="1396.1">ciliates | 4 leaves</text></g>
<g id="b3-l27"><path class="tgr" d="M1121 1415.7L1146.4 1410.2V1421.2Z"/><text class="tb" x="1149.4" y="1415.7">eukaryotes | 2 leaves</text></g>
<g id="b3-l28"><path class="tgr" d="M1146.4 1434.2L1166.6 1428.7V1439.7Z"/><text class="tb" x="1169.6" y="1434.2">eukaryotes | 2 leaves</text></g>
<g id="b3-l29"><circle class="g" cx="1153.6" cy="1450.9" r="2.4"/><text class="tb" x="1157.6" y="1450.9">cytochrome p450 superfamily protein [Acanthamoeba castellanii str. Neff]</text></g>
<g id="b3-l30"><path class="tgr" d="M1104.3 1469.3L1130.6 1463.8V1474.8Z"/><text class="tb" x="1133.6" y="1469.3">eukaryotes | 4 leaves</text></g>
<g id="b3-l31"><circle class="g" cx="1175.2" cy="1486.9" r="2.4"/><text class="tb" x="1179.2" y="1486.9">cytochrome p450 superfamily protein [Acanthamoeba castellanii str. Neff]</text></g>
<g id="b3-l32"><path class="tgr" d="M1068.4 1503.6L1094.7 1498.1V1509.1Z"/><text class="tb" x="1097.7" y="1503.6">eukaryotes | 2 leaves</text></g>
<g id="b3-l33"><circle class="g" cx="1109.1" cy="1520.2" r="2.4"/><text class="tb" x="1113.1" y="1520.2">cytochrome p450 superfamily protein [Acanthamoeba castellanii str. Neff]</text></g>
<g id="b3-l34"><circle class="g" cx="1122" cy="1535.8" r="2.4"/><text class="tb" x="1126" y="1535.8">cytochrome p450 superfamily protein [Acanthamoeba castellanii str. Neff]</text></g>
<g id="b3-l35"><path class="tbl" d="M1125.8 1553.3L1148.3 1547.8V1558.8Z"/><text class="tb" x="1151.3" y="1553.3">cellular slime molds | 2 leaves</text></g>
</g>
</g>
</svg>
